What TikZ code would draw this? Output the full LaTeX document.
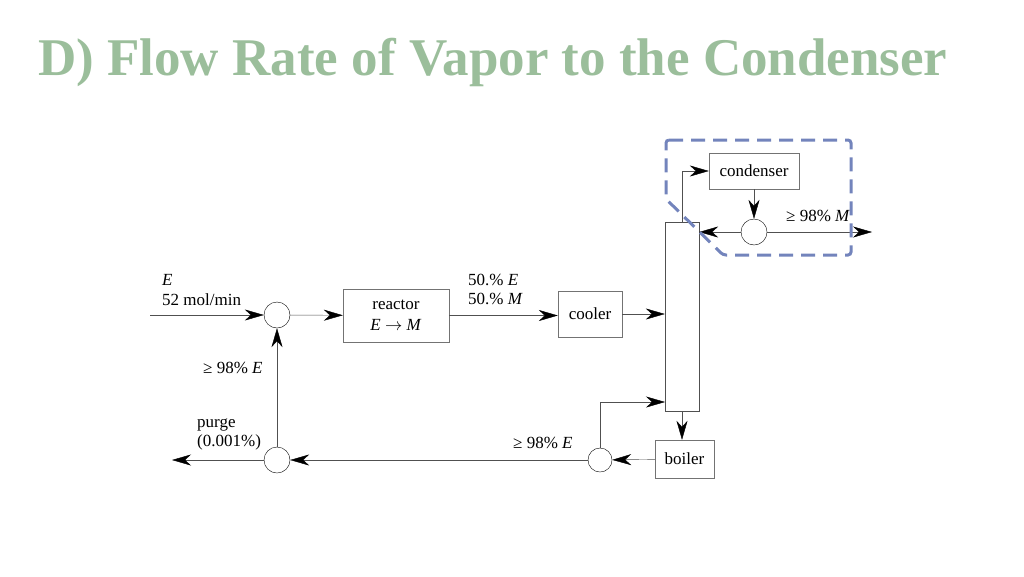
\documentclass[tikz,border=0pt]{standalone}
\usepackage{fontspec}
\setmainfont{Liberation Serif}
\usetikzlibrary{positioning,arrows.meta}
\definecolor{titulo}{RGB}{155,190,155}
\definecolor{fronteira}{RGB}{115,132,188}
\definecolor{linha}{RGB}{80,80,80}

\begin{document}
\begin{tikzpicture}
            [
                x=1pt, y=-1pt,
                font=\fontsize{17}{20}\selectfont,
                equipamento/.style={rectangle, draw=linha!80, minimum height=36pt, inner sep=4pt},
                juncao/.style={circle, draw=black, fill=white, minimum size=26pt, inner sep=0pt},
                coluna/.style={rectangle, draw=linha, minimum width=34pt, minimum height=189pt},
                fluxo/.style={draw=linha, -{Stealth[length=19pt,width=11pt,inset=6pt,black]}},
                rotulo/.style={anchor=base west, inner sep=0pt},
            ]
            \useasboundingbox (0,0) rectangle (1024,576);
            % titulo
            \node[anchor=base west, inner sep=0pt, text=titulo, font=\fontsize{53}{58}\selectfont\bfseries] (titulo) at (38,75) {D) Flow Rate of Vapor to the Condenser};
            % equipamentos
            \node[equipamento, minimum width=106pt, minimum height=53pt, align=center] (reator) at (396,315.5) {reactor\\[1pt]\textit{E} \ensuremath{\rightarrow} \textit{M}};
            \node[equipamento, minimum width=64pt, minimum height=46pt] (resfriador) at (590,314) {cooler};
            \node[coluna] (coluna) at (682,316.5) {};
            \node[equipamento, minimum width=90pt] (condensador) at (754,171) {condenser};
            \node[equipamento, minimum width=59pt, minimum height=38pt] (refervedor) at (684.5,459) {boiler};
            % juncoes
            \node[juncao] (m1) at (277,315) {};
            \node[juncao] (m2) at (754,232) {};
            \node[juncao, minimum size=24pt] (m3) at (600,460) {};
            \node[juncao] (divisor) at (277,460) {};
            % extremidades livres
            \coordinate (entrada) at (150,315);
            \coordinate (produto) at (872,232);
            \coordinate (purga) at (172,460);
            \coordinate (retorno) at (665,402);
            % correntes
            \draw[fluxo] (entrada) -- (m1);
            \draw[fluxo] (m1) -- (reator);
            \draw[fluxo] (reator) -- (resfriador.west |- reator);
            \draw[fluxo] (resfriador) -- (resfriador -| coluna.west);
            \draw[fluxo] (coluna.north) |- (condensador.west);
            \draw[fluxo] (condensador) -- (m2);
            \draw[fluxo] (m2) -- (m2 -| coluna.east);
            \draw[fluxo] (m2) -- (produto);
            \draw[fluxo] (coluna.south) -- (coluna.south |- refervedor.north);
            \draw[fluxo] (refervedor) -- (m3);
            \draw[fluxo] (m3) |- (retorno);
            \draw[fluxo] (m3) -- (divisor);
            \draw[fluxo] (divisor) -- (purga);
            \draw[fluxo] (divisor) -- (m1);
            % rotulos
            \node[rotulo] (lE) at (162,285) {\textit{E}};
            \node[rotulo] (lvazao) at (162,305) {52 mol/min};
            \node[rotulo] (lmistura1) at (468,285) {50.\% \textit{E}};
            \node[rotulo] (lmistura2) at (468,304) {50.\% \textit{M}};
            \node[rotulo] (lreciclo) at (203,373) {≥ 98\% \textit{E}};
            \node[rotulo] (lpurga1) at (197,427) {purge};
            \node[rotulo] (lpurga2) at (197,446) {(0.001\%)};
            \node[rotulo] (lfundo) at (513,448) {≥ 98\% \textit{E}};
            \node[rotulo] (ltopo) at (786,221) {≥ 98\% \textit{M}};
            % fronteira do balanco
            \draw[fronteira, line width=3pt, dash pattern=on 14pt off 8pt, rounded corners=3pt]
                (666,140) -- (851,140) -- (851,255) -- (723,255) -- (666,199) -- cycle;
        \end{tikzpicture}
\end{document}
